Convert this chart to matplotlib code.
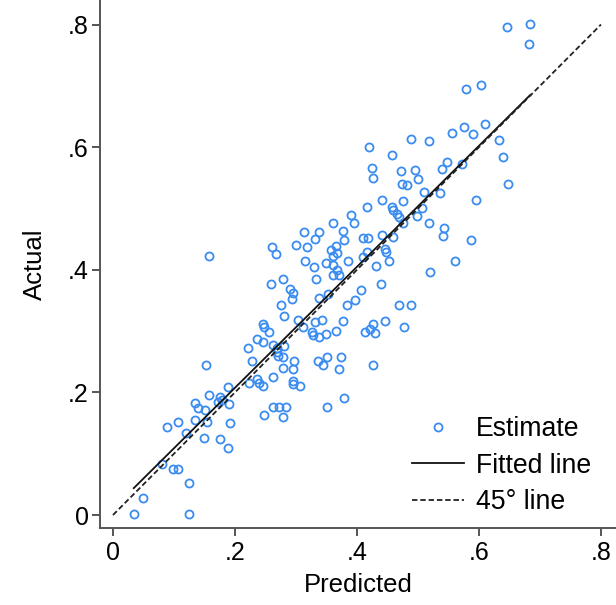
import numpy as np
import matplotlib
matplotlib.use("Agg")
import matplotlib.pyplot as plt
from matplotlib.lines import Line2D

plt.rcParams["font.family"] = ["Liberation Sans", "DejaVu Sans"]

# Predicted vs. actual values for each unit
predicted = [
    0.646, 0.684, 0.682, 0.579, 0.603, 0.575, 0.610, 0.556, 0.590, 0.633,
    0.639, 0.648, 0.595, 0.420, 0.489, 0.518, 0.457, 0.425, 0.426, 0.472,
    0.495, 0.500, 0.474, 0.482, 0.539, 0.548, 0.572, 0.510, 0.536, 0.441,
    0.475, 0.416, 0.457, 0.459, 0.466, 0.469, 0.507, 0.498, 0.475, 0.518,
    0.543, 0.541, 0.587, 0.410, 0.418, 0.441, 0.459, 0.446, 0.448, 0.416,
    0.410, 0.452, 0.431, 0.561, 0.520, 0.439, 0.407, 0.469, 0.489, 0.390,
    0.395, 0.361, 0.377, 0.338, 0.313, 0.331, 0.300, 0.318, 0.261, 0.267,
    0.379, 0.357, 0.366, 0.367, 0.361, 0.385, 0.349, 0.315, 0.330, 0.361,
    0.367, 0.361, 0.370, 0.333, 0.279, 0.259, 0.290, 0.295, 0.293, 0.157,
    0.275, 0.338, 0.352, 0.384, 0.397, 0.280, 0.246, 0.248, 0.256, 0.303,
    0.311, 0.331, 0.343, 0.326, 0.328, 0.338, 0.349, 0.377, 0.366, 0.413,
    0.446, 0.477, 0.426, 0.421, 0.430, 0.236, 0.246, 0.221, 0.262, 0.269,
    0.280, 0.269, 0.270, 0.279, 0.228, 0.297, 0.336, 0.351, 0.344, 0.374,
    0.370, 0.279, 0.295, 0.426, 0.262, 0.236, 0.223, 0.239, 0.246, 0.295,
    0.295, 0.307, 0.379, 0.262, 0.272, 0.284, 0.351, 0.248, 0.279,
    0.152, 0.189, 0.157, 0.175, 0.179, 0.172, 0.190, 0.134, 0.139, 0.151,
    0.107, 0.089, 0.134, 0.154, 0.192, 0.120, 0.149, 0.175, 0.189, 0.080,
    0.098, 0.107, 0.125, 0.049, 0.034, 0.125,
]
actual = [
    0.796, 0.801, 0.768, 0.695, 0.701, 0.633, 0.638, 0.623, 0.622, 0.612,
    0.584, 0.540, 0.514, 0.600, 0.613, 0.610, 0.587, 0.566, 0.550, 0.561,
    0.563, 0.548, 0.540, 0.538, 0.564, 0.576, 0.573, 0.527, 0.525, 0.514,
    0.512, 0.502, 0.502, 0.498, 0.491, 0.486, 0.501, 0.488, 0.476, 0.476,
    0.468, 0.455, 0.449, 0.452, 0.452, 0.457, 0.454, 0.434, 0.429, 0.429,
    0.421, 0.414, 0.406, 0.414, 0.396, 0.377, 0.367, 0.343, 0.343, 0.489,
    0.476, 0.476, 0.463, 0.462, 0.462, 0.450, 0.440, 0.437, 0.437, 0.426,
    0.449, 0.432, 0.439, 0.427, 0.423, 0.414, 0.411, 0.414, 0.405, 0.408,
    0.400, 0.392, 0.392, 0.385, 0.385, 0.377, 0.369, 0.362, 0.352, 0.423,
    0.343, 0.354, 0.361, 0.343, 0.351, 0.325, 0.312, 0.307, 0.299, 0.318,
    0.307, 0.315, 0.318, 0.299, 0.294, 0.290, 0.295, 0.316, 0.300, 0.299,
    0.316, 0.307, 0.312, 0.303, 0.297, 0.287, 0.282, 0.272, 0.277, 0.272,
    0.276, 0.266, 0.259, 0.258, 0.251, 0.251, 0.251, 0.258, 0.245, 0.258,
    0.238, 0.240, 0.238, 0.245, 0.225, 0.222, 0.215, 0.215, 0.210, 0.219,
    0.214, 0.210, 0.191, 0.176, 0.176, 0.176, 0.176, 0.163, 0.160,
    0.245, 0.209, 0.196, 0.192, 0.188, 0.184, 0.181, 0.183, 0.175, 0.171,
    0.152, 0.144, 0.155, 0.152, 0.150, 0.134, 0.126, 0.124, 0.109, 0.083,
    0.075, 0.075, 0.052, 0.028, 0.002, 0.002,
]

tick_values = [0.0, 0.2, 0.4, 0.6, 0.8]
tick_labels = ["0", ".2", ".4", ".6", ".8"]
legend_labels = ["Estimate", "Fitted line", "45° line"]

x = np.array(predicted)
y = np.array(actual)

marker_color = "#3a8cf0"
axis_color = "#555555"
msize = 5.8

fig = plt.figure(figsize=(6.16, 6.05), dpi=100)
ax = fig.add_axes([100 / 616, 77 / 605, 516 / 616, 528 / 605])

ax.plot(x, y, linestyle="none", marker="o", markersize=msize,
        markerfacecolor="none", markeredgecolor=marker_color,
        markeredgewidth=1.3, zorder=3)

# OLS fit of actual on predicted, drawn over the observed range
slope, intercept = np.polyfit(x, y, 1)
xs = np.array([x.min(), x.max()])
ax.plot(xs, intercept + slope * xs, color="#111111", linewidth=1.3, zorder=4)

# reference 45-degree line
ax.plot([0, 0.8], [0, 0.8], color="#222222", linewidth=1.3,
        linestyle=(0, (3, 1.6)), zorder=4)

ax.set_xlim(-0.0213, 0.8246)
ax.set_ylim(-0.0212, 0.840)
ax.set_xticks(tick_values)
ax.set_xticklabels(tick_labels)
ax.set_yticks(tick_values)
ax.set_yticklabels(tick_labels)

for side in ("top", "right"):
    ax.spines[side].set_visible(False)
for side in ("left", "bottom"):
    ax.spines[side].set_color(axis_color)
    ax.spines[side].set_linewidth(1.4)

ax.tick_params(axis="both", direction="out", length=6, width=1.4,
               color=axis_color, labelsize=18, labelcolor="black")
ax.tick_params(axis="x", pad=3)
ax.tick_params(axis="y", pad=2)

ax.set_xlabel("Predicted", fontsize=18.5, labelpad=6)
ax.set_ylabel("Actual", fontsize=18.5, labelpad=15)

handles = [
    Line2D([], [], linestyle="none", marker="o", markersize=msize,
           markerfacecolor="none", markeredgecolor=marker_color,
           markeredgewidth=1.3),
    Line2D([], [], color="#111111", linewidth=1.3),
    Line2D([], [], color="#222222", linewidth=1.3, linestyle=(0, (3, 1.6))),
]
ax.legend(handles, legend_labels, loc="upper left",
          bbox_to_anchor=(412 / 616, (605 - 416) / 605),
          bbox_transform=fig.transFigure, frameon=False, fontsize=19.2,
          borderpad=0, borderaxespad=0, handlelength=1.95,
          handletextpad=0.45, labelspacing=0.4)

fig.savefig("out.png", dpi=100)
